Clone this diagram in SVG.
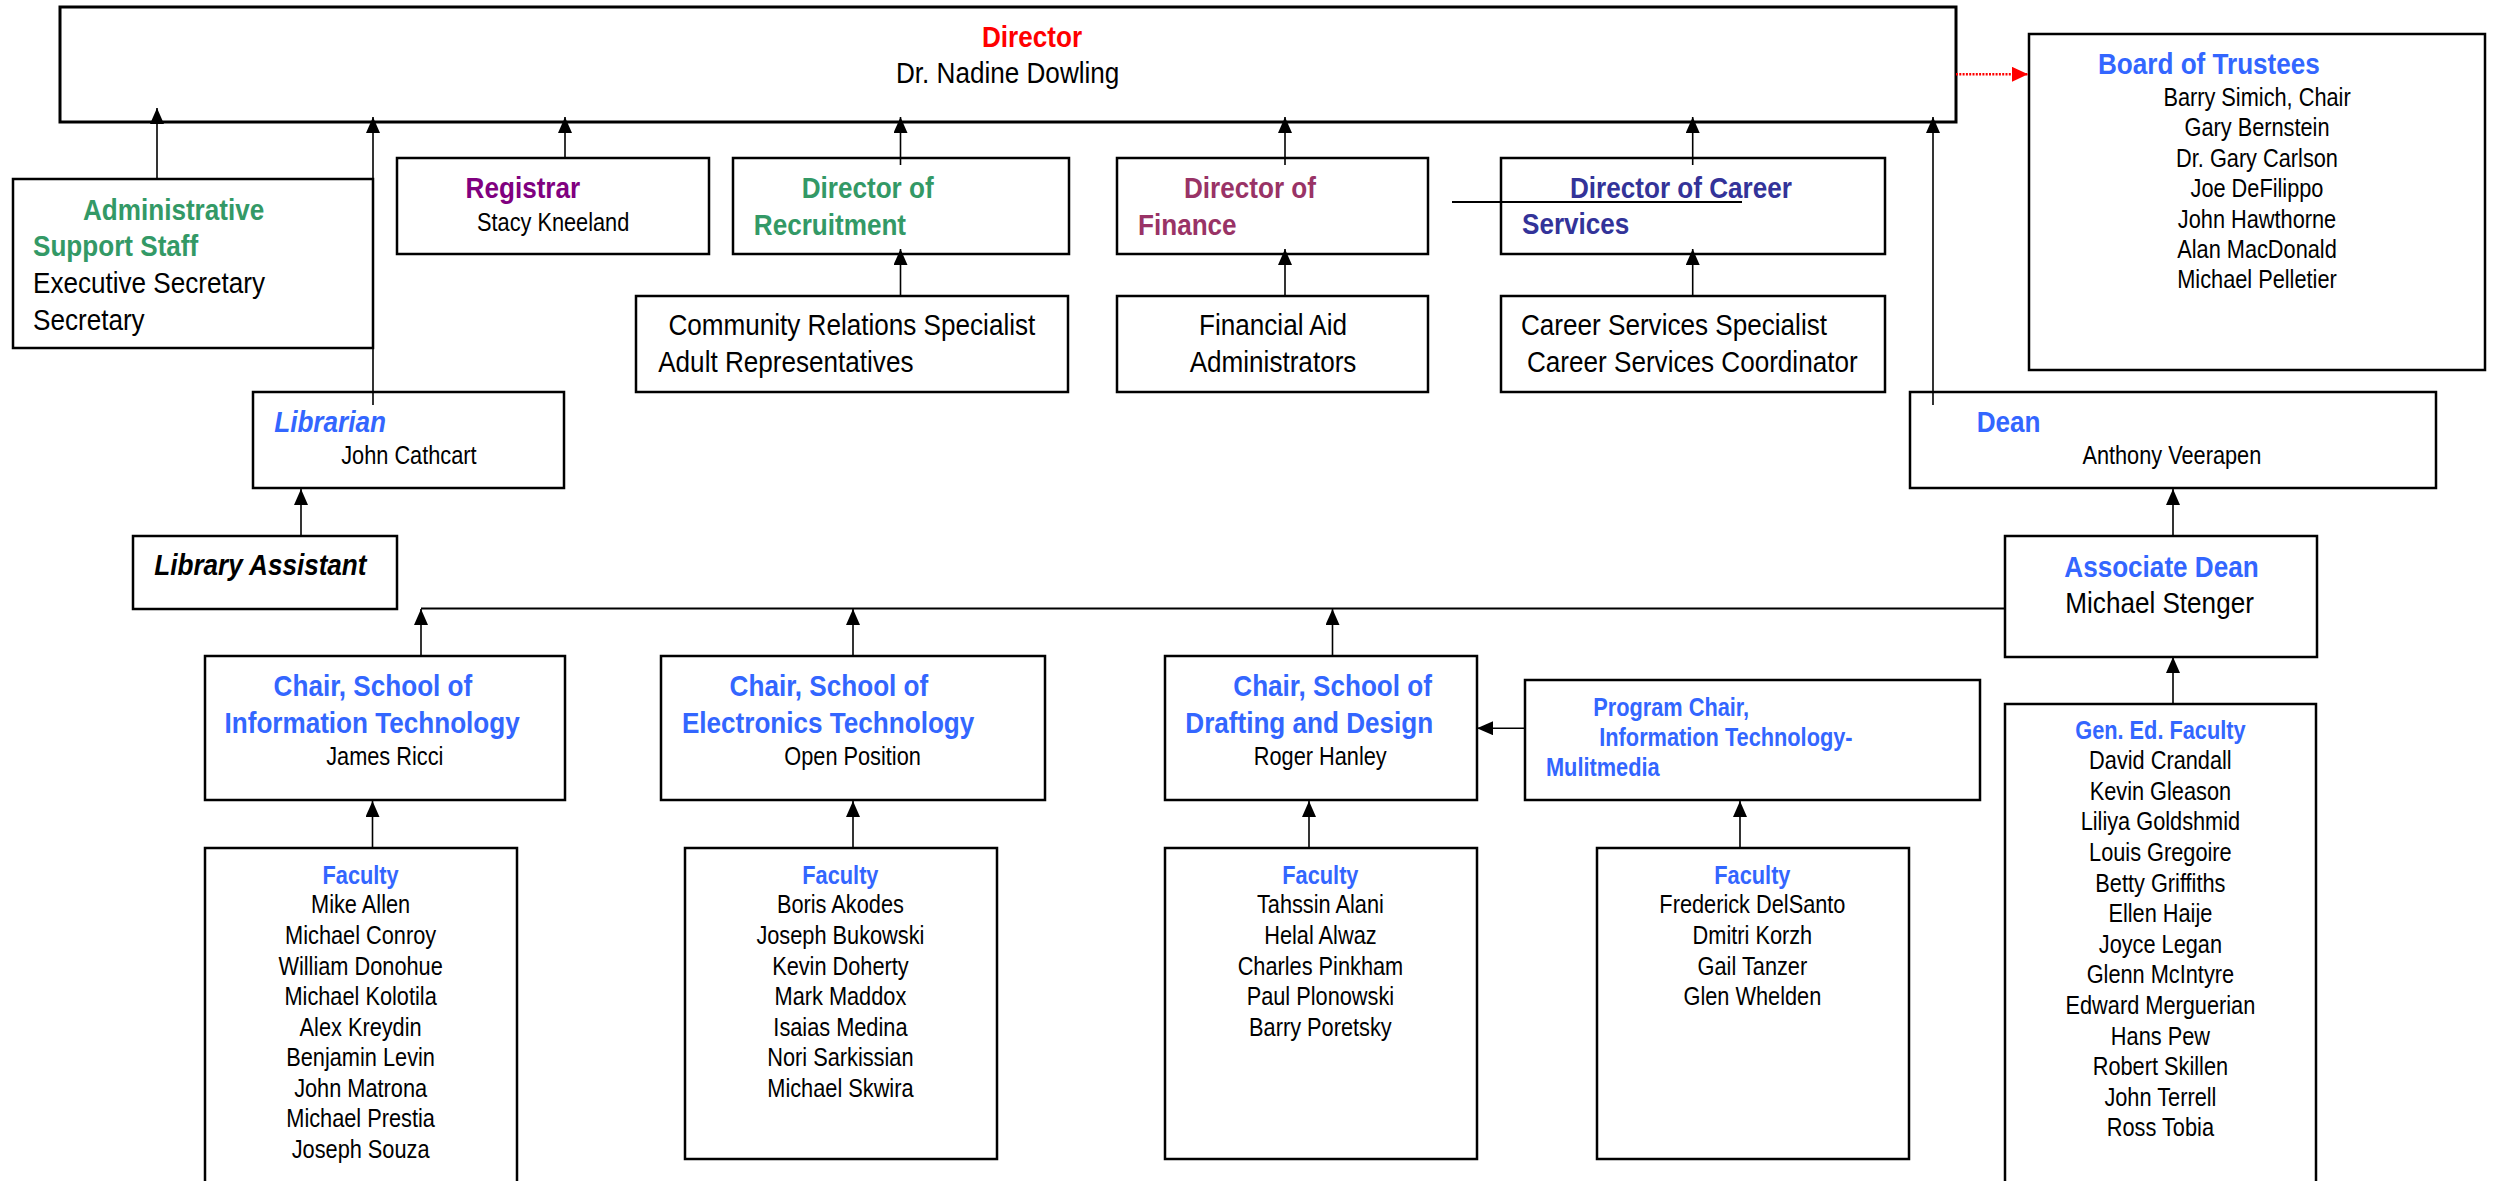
<svg xmlns="http://www.w3.org/2000/svg" width="2494" height="1181" viewBox="0 0 2494 1181">
<style>
.bx{fill:#fff;stroke:#000;stroke-width:2.5}
.t{font-family:"Liberation Sans",Arial,sans-serif;fill:#000}
.L{font-size:30px}
.M{font-size:25px}
.b{font-weight:bold}
.i{font-style:italic}
.red{fill:#FF0000}
.grn{fill:#339966}
.pur{fill:#800080}
.mag{fill:#993366}
.dkb{fill:#333399}
.blu{fill:#3366FF}
.c{text-anchor:middle}
.cn{fill:none;stroke:#000;stroke-width:1.6}
</style>
<defs>
<marker id="ah" viewBox="0 0 10 10" refX="10" refY="5" markerWidth="16" markerHeight="14" markerUnits="userSpaceOnUse" orient="auto" preserveAspectRatio="none"><path d="M0,0 L10,5 L0,10 z" fill="#000"/></marker>
<marker id="ahr" viewBox="0 0 10 10" refX="10" refY="5" markerWidth="16" markerHeight="15" markerUnits="userSpaceOnUse" orient="auto" preserveAspectRatio="none"><path d="M0,0 L10,5 L0,10 z" fill="#FF0000"/></marker>
</defs>
<rect width="2494" height="1181" fill="#fff"/>

<g id="director">
<rect class="bx" x="60" y="7" width="1896" height="115" style="stroke-width:3"/>
<text class="t L b red" transform="translate(982 47) scale(.87 1)">Director</text>
<text class="t L" transform="translate(896 83) scale(.87 1)">Dr. Nadine Dowling</text>
</g>

<g id="board">
<rect class="bx" x="2029" y="34" width="456" height="336"/>
<text class="t L b blu" transform="translate(2098 74) scale(.87 1)">Board of Trustees</text>
<text class="t M c" transform="translate(2257 106) scale(.87 1)"><tspan x="0" y="0">Barry Simich, Chair</tspan><tspan x="0" y="30.4">Gary Bernstein</tspan><tspan x="0" y="60.8">Dr. Gary Carlson</tspan><tspan x="0" y="91.2">Joe DeFilippo</tspan><tspan x="0" y="121.6">John Hawthorne</tspan><tspan x="0" y="152">Alan MacDonald</tspan><tspan x="0" y="182.4">Michael Pelletier</tspan></text>
</g>

<g id="admin">
<rect class="bx" x="13" y="179" width="360" height="169"/>
<text class="t L b grn" transform="translate(83 220) scale(.87 1)">Administrative</text>
<text class="t L b grn" transform="translate(33 256) scale(.87 1)">Support Staff</text>
<text class="t L" transform="translate(33 293) scale(.87 1)">Executive Secretary</text>
<text class="t L" transform="translate(33 330) scale(.87 1)">Secretary</text>
</g>

<g id="registrar">
<rect class="bx" x="397" y="158" width="312" height="96"/>
<text class="t L b pur" transform="translate(465.6 198) scale(.87 1)">Registrar</text>
<text class="t M" transform="translate(477 231) scale(.87 1)">Stacy Kneeland</text>
</g>

<g id="recruitment">
<rect class="bx" x="733" y="158" width="336" height="96"/>
<text class="t L b grn" transform="translate(801.7 198) scale(.87 1)">Director of</text>
<text class="t L b grn" transform="translate(753.8 235) scale(.87 1)">Recruitment</text>
</g>

<g id="finance">
<rect class="bx" x="1117" y="158" width="311" height="96"/>
<text class="t L b mag" transform="translate(1184 198) scale(.87 1)">Director of</text>
<text class="t L b mag" transform="translate(1138 235) scale(.87 1)">Finance</text>
</g>

<g id="career">
<rect class="bx" x="1501" y="158" width="384" height="96"/>
<text class="t L b dkb" transform="translate(1570 198) scale(.87 1)">Director of Career</text>
<text class="t L b dkb" transform="translate(1522 234) scale(.87 1)">Services</text>
</g>

<g id="community">
<rect class="bx" x="636" y="296" width="432" height="96"/>
<text class="t L" transform="translate(668.4 335) scale(.87 1)">Community Relations Specialist</text>
<text class="t L" transform="translate(658.2 371.7) scale(.87 1)">Adult Representatives</text>
</g>

<g id="finaid">
<rect class="bx" x="1117" y="296" width="311" height="96"/>
<text class="t L c" transform="translate(1273 335) scale(.87 1)">Financial Aid</text>
<text class="t L c" transform="translate(1273 371.7) scale(.87 1)">Administrators</text>
</g>

<g id="careersvc">
<rect class="bx" x="1501" y="296" width="384" height="96"/>
<text class="t L" transform="translate(1521 335) scale(.87 1)">Career Services Specialist</text>
<text class="t L" transform="translate(1527 371.7) scale(.87 1)">Career Services Coordinator</text>
</g>

<g id="librarian">
<rect class="bx" x="253" y="392" width="311" height="96"/>
<text class="t L b i blu" transform="translate(274.2 431.7) scale(.87 1)">Librarian</text>
<text class="t M" transform="translate(341.2 464.3) scale(.87 1)">John Cathcart</text>
</g>

<g id="dean">
<rect class="bx" x="1910" y="392" width="526" height="96"/>
<text class="t L b blu" transform="translate(1976.7 431.7) scale(.87 1)">Dean</text>
<text class="t M" transform="translate(2082.4 464.3) scale(.87 1)">Anthony Veerapen</text>
</g>

<g id="libasst">
<rect class="bx" x="133" y="536" width="264" height="73"/>
<text class="t L b i" transform="translate(154.3 575) scale(.87 1)">Library Assistant</text>
</g>

<g id="assocdean">
<rect class="bx" x="2005" y="536" width="312" height="121"/>
<text class="t L b blu" transform="translate(2064.3 576.7) scale(.87 1)">Associate Dean</text>
<text class="t L" transform="translate(2065.3 613.3) scale(.87 1)">Michael Stenger</text>
</g>

<g id="chair-it">
<rect class="bx" x="205" y="656" width="360" height="144"/>
<text class="t L b blu" transform="translate(273.6 695.7) scale(.87 1)">Chair, School of</text>
<text class="t L b blu" transform="translate(224.5 733) scale(.87 1)">Information Technology</text>
<text class="t M" transform="translate(326.2 765) scale(.87 1)">James Ricci</text>
</g>

<g id="chair-et">
<rect class="bx" x="661" y="656" width="384" height="144"/>
<text class="t L b blu" transform="translate(729.6 695.7) scale(.87 1)">Chair, School of</text>
<text class="t L b blu" transform="translate(681.9 733) scale(.87 1)">Electronics Technology</text>
<text class="t M" transform="translate(784.3 765) scale(.87 1)">Open Position</text>
</g>

<g id="chair-dd">
<rect class="bx" x="1165" y="656" width="312" height="144"/>
<text class="t L b blu" transform="translate(1233.3 695.7) scale(.87 1)">Chair, School of</text>
<text class="t L b blu" transform="translate(1185.3 733) scale(.87 1)">Drafting and Design</text>
<text class="t M" transform="translate(1253.8 765) scale(.87 1)">Roger Hanley</text>
</g>

<g id="progchair">
<rect class="bx" x="1525" y="680" width="455" height="120"/>
<text class="t M b blu" transform="translate(1593.3 716) scale(.87 1)">Program Chair,</text>
<text class="t M b blu" transform="translate(1599.3 745.7) scale(.87 1)">Information Technology-</text>
<text class="t M b blu" transform="translate(1546 775.7) scale(.87 1)">Mulitmedia</text>
</g>

<g id="fac-it">
<rect class="bx" x="205" y="848" width="312" height="360"/>
<text class="t M c" transform="translate(360.6 883.7) scale(.87 1)"><tspan class="b blu" x="0" y="0">Faculty</tspan><tspan x="0" y="29.8">Mike Allen</tspan><tspan x="0" y="60.4">Michael Conroy</tspan><tspan x="0" y="90.9">William Donohue</tspan><tspan x="0" y="121.5">Michael Kolotila</tspan><tspan x="0" y="152">Alex Kreydin</tspan><tspan x="0" y="182.6">Benjamin Levin</tspan><tspan x="0" y="213.2">John Matrona</tspan><tspan x="0" y="243.7">Michael Prestia</tspan><tspan x="0" y="274.3">Joseph Souza</tspan></text>
</g>

<g id="fac-et">
<rect class="bx" x="685" y="848" width="312" height="311"/>
<text class="t M c" transform="translate(840.4 883.7) scale(.87 1)"><tspan class="b blu" x="0" y="0">Faculty</tspan><tspan x="0" y="29.8">Boris Akodes</tspan><tspan x="0" y="60.4">Joseph Bukowski</tspan><tspan x="0" y="90.9">Kevin Doherty</tspan><tspan x="0" y="121.5">Mark Maddox</tspan><tspan x="0" y="152">Isaias Medina</tspan><tspan x="0" y="182.6">Nori Sarkissian</tspan><tspan x="0" y="213.2">Michael Skwira</tspan></text>
</g>

<g id="fac-dd">
<rect class="bx" x="1165" y="848" width="312" height="311"/>
<text class="t M c" transform="translate(1320.4 883.7) scale(.87 1)"><tspan class="b blu" x="0" y="0">Faculty</tspan><tspan x="0" y="29.8">Tahssin Alani</tspan><tspan x="0" y="60.4">Helal Alwaz</tspan><tspan x="0" y="90.9">Charles Pinkham</tspan><tspan x="0" y="121.5">Paul Plonowski</tspan><tspan x="0" y="152">Barry Poretsky</tspan></text>
</g>

<g id="fac-pc">
<rect class="bx" x="1597" y="848" width="312" height="311"/>
<text class="t M c" transform="translate(1752.4 883.7) scale(.87 1)"><tspan class="b blu" x="0" y="0">Faculty</tspan><tspan x="0" y="29.8">Frederick DelSanto</tspan><tspan x="0" y="60.4">Dmitri Korzh</tspan><tspan x="0" y="90.9">Gail Tanzer</tspan><tspan x="0" y="121.5">Glen Whelden</tspan></text>
</g>

<g id="fac-gened">
<rect class="bx" x="2005" y="704" width="311" height="500"/>
<text class="t M c" transform="translate(2160.4 738.7) scale(.87 1)"><tspan class="b blu" x="0" y="0">Gen. Ed. Faculty</tspan><tspan x="0" y="30.5">David Crandall</tspan><tspan x="0" y="61.1">Kevin Gleason</tspan><tspan x="0" y="91.7">Liliya Goldshmid</tspan><tspan x="0" y="122.3">Louis Gregoire</tspan><tspan x="0" y="152.9">Betty Griffiths</tspan><tspan x="0" y="183.5">Ellen Haije</tspan><tspan x="0" y="214.1">Joyce Legan</tspan><tspan x="0" y="244.7">Glenn McIntyre</tspan><tspan x="0" y="275.3">Edward Merguerian</tspan><tspan x="0" y="305.9">Hans Pew</tspan><tspan x="0" y="336.5">Robert Skillen</tspan><tspan x="0" y="367.1">John Terrell</tspan><tspan x="0" y="397.7">Ross Tobia</tspan></text>
</g>

<g id="connectors">
<path class="cn" d="M157,179 V108" marker-end="url(#ah)"/>
<path class="cn" d="M373,405 V117" marker-end="url(#ah)"/>
<path class="cn" d="M565,158 V117" marker-end="url(#ah)"/>
<path class="cn" d="M900.5,165 V117" marker-end="url(#ah)"/>
<path class="cn" d="M900.5,296 V249" marker-end="url(#ah)"/>
<path class="cn" d="M1285,165 V117" marker-end="url(#ah)"/>
<path class="cn" d="M1285,296 V249" marker-end="url(#ah)"/>
<path class="cn" d="M1692.7,165 V117" marker-end="url(#ah)"/>
<path class="cn" d="M1692.7,296 V249" marker-end="url(#ah)"/>
<path class="cn" d="M1933,405 V117" marker-end="url(#ah)"/>
<path d="M1956,74.3 H2028" fill="none" stroke="#FF0000" stroke-width="2.5" stroke-dasharray="2,1.3" marker-end="url(#ahr)"/>
<path class="cn" d="M301,536 V489" marker-end="url(#ah)"/>
<path class="cn" d="M2173,536 V489" marker-end="url(#ah)"/>
<path class="cn" d="M421,608.5 H2005" style="stroke-width:2.2"/>
<path class="cn" d="M421,656 V609" marker-end="url(#ah)"/>
<path class="cn" d="M853,656 V609" marker-end="url(#ah)"/>
<path class="cn" d="M1332.5,656 V609" marker-end="url(#ah)"/>
<path class="cn" d="M372.5,848 V801" marker-end="url(#ah)"/>
<path class="cn" d="M853,848 V801" marker-end="url(#ah)"/>
<path class="cn" d="M1309,848 V801" marker-end="url(#ah)"/>
<path class="cn" d="M1740,848 V801" marker-end="url(#ah)"/>
<path class="cn" d="M1525,728.2 H1477" marker-end="url(#ah)"/>
<path class="cn" d="M2173,704 V657" marker-end="url(#ah)"/>
<path class="cn" d="M1452,202 H1742" style="stroke-width:2"/>
</g>
</svg>
